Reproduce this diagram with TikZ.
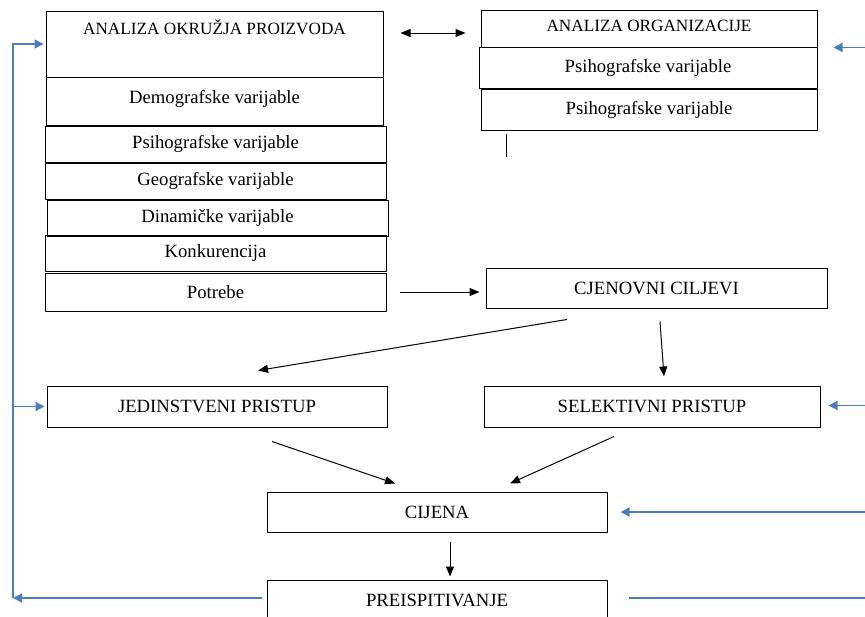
\documentclass[tikz,border=0pt]{standalone}
\usepackage{fontspec}
\setmainfont{Liberation Serif}
\usetikzlibrary{arrows.meta,calc}
\definecolor{fbblue}{RGB}{74,126,193}
\begin{document}
\begin{tikzpicture}[x=1pt,y=-1pt, every text node part/.style={align=center}]
        \tikzset{
          box/.style={draw, line width=1pt, inner sep=0pt, minimum height=36pt,
            font=\fontsize{18.7}{21}\selectfont},
          arr/.style={-{Triangle[length=10pt,width=8pt]}, line width=1pt},
          fb/.style={draw=fbblue, line width=1.4pt},
          fbarr/.style={fb, -{Triangle[length=9pt,width=9pt]}, fbblue},
          ttl/.style={font=\fontsize{17.2}{20}\selectfont, inner sep=0pt},
        }
        \useasboundingbox (0,0) rectangle (865,616);
        % okruzje proizvoda
        \node [box, minimum width=337pt, minimum height=66pt] (aop) at (214.5,44) {};
        \node [ttl] (aopt) at (214.5,27) {ANALIZA OKRUŽJA PROIZVODA};
        \node [box, minimum width=337pt, minimum height=48pt, text depth=8pt] (demo) at (214.5,101) {Demografske varijable};
        \node [box, minimum width=341pt] (psih) at (215.5,144) {Psihografske varijable};
        \node [box, minimum width=341pt] (geo) at (215.5,181) {Geografske varijable};
        \node [box, minimum width=341pt] (din) at (217.5,218) {Dinamičke varijable};
        \node [box, minimum width=341pt] (kon) at (215.5,253) {Konkurencija};
        \node [box, minimum width=341pt, minimum height=38pt] (pot) at (215.5,292) {Potrebe};
        % organizacija
        \node [box, minimum width=336pt, minimum height=37pt] (aor) at (649,28.5) {};
        \node [ttl] (aort) at (649,26) {ANALIZA ORGANIZACIJE};
        \node [box, minimum width=338pt, minimum height=41pt] (psa) at (648,67.5) {Psihografske varijable};
        \node [box, minimum width=336pt, minimum height=41pt] (psb) at (649,109.5) {Psihografske varijable};
        \draw [line width=1pt] ($(psb.south west)+(26,3)$) -- ($(psb.south west)+(26,26)$);
        % 
        \node [box, minimum width=341pt, minimum height=40pt] (cc) at (656.5,288) {CJENOVNI CILJEVI};
        \node [box, minimum width=340pt, minimum height=41pt] (jed) at (217,406.5) {JEDINSTVENI PRISTUP};
        \node [box, minimum width=336pt, minimum height=41pt] (sel) at (652,406.5) {SELEKTIVNI PRISTUP};
        \node [box, minimum width=340pt, minimum height=40pt] (cij) at (437,512) {CIJENA};
        \node [box, minimum width=340pt, minimum height=40pt] (pre) at (437,600) {PREISPITIVANJE};
        % black arrows
        \draw [arr, {Triangle[length=10pt,width=8pt]}-{Triangle[length=10pt,width=8pt]}]
          ($(aop.east)+(17,-11)$) -- ($(aop.east)+(82,-11)$);
        \draw [arr] ($(pot.east)+(13,0)$) -- ($(cc.west |- pot.east)+(-6,0)$);
        \draw [arr] ($(cc.south)+(-89.5,11)$) -- ($(jed.north)+(41,-15)$);
        \draw [arr] ($(cc.south)+(3.5,13)$) -- ($(sel.north)+(12,-9)$);
        \draw [arr] ($(jed.south)+(55,14)$) -- ($(cij.north)+(-42,-8)$);
        \draw [arr] ($(sel.south)+(-38,9)$) -- ($(cij.north)+(73,-8)$);
        \draw [arr] ($(cij.south)+(13,9)$) -- ($(pre.north)+(13,-3)$);
        % feedback
        \coordinate (lc) at (13,598);
        \coordinate (rc) at (866,0);
        \draw [fbarr] ($(pre.west)+(-5,-2)$) -- (lc);
        \draw [fbarr] (lc) -- (lc |- aop.west) -- ($(aop.west)+(-2,0)$);
        \draw [fbarr] (lc |- jed.west) -- ($(jed.west)+(-2,0)$);
        \draw [fb] ($(pre.east)+(21,-2)$) -- ($(rc |- pre.east)+(0,-2)$);
        \draw [fbarr] (rc |- aor.south east) -- ($(aor.south east)+(16,0)$);
        \draw [fbarr] ($(rc |- sel.east)+(0,-1)$) -- ($(sel.east)+(8,-1)$);
        \draw [fbarr] (rc |- cij.east) -- ($(cij.east)+(13,0)$);
    \end{tikzpicture}
\end{document}
